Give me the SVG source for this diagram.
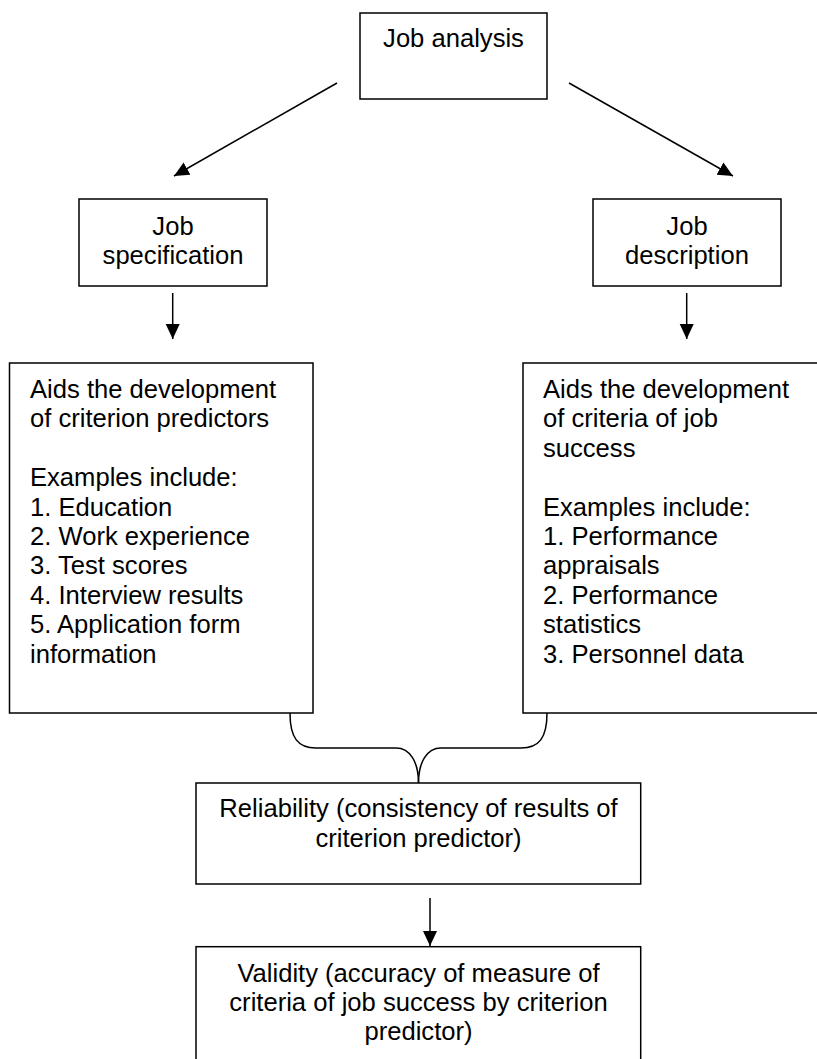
<svg xmlns="http://www.w3.org/2000/svg" width="817" height="1059" viewBox="0 0 817 1059">
  <style>
    .box { fill: #ffffff; stroke: #000000; stroke-width: 1.5; }
    .lbl { font-family: "Liberation Sans", Arial, sans-serif; font-size: 25.6px; fill: #000000; }
    .c { text-anchor: middle; }
    .edge { fill: none; stroke: #000000; stroke-width: 1.5; }
  </style>
  <defs>
    <marker id="arrow" markerUnits="userSpaceOnUse" markerWidth="16" markerHeight="16" viewBox="0 0 16 16" refX="15" refY="8" orient="auto">
      <path d="M0,1 L15,8 L0,15 Z" fill="#000000"/>
    </marker>
  </defs>
  <rect width="817" height="1059" fill="#ffffff"/>

  <g id="connectors">
    <line class="edge" x1="337" y1="83" x2="174" y2="176" marker-end="url(#arrow)"/>
    <line class="edge" x1="569" y1="83" x2="733" y2="176" marker-end="url(#arrow)"/>
    <line class="edge" x1="172.7" y1="293" x2="172.7" y2="339" marker-end="url(#arrow)"/>
    <line class="edge" x1="686.7" y1="293" x2="686.7" y2="339" marker-end="url(#arrow)"/>
    <path class="edge" d="M290,713 C290,738 298,748 316,748 L396,748 C410,748 418.5,762 418.5,783"/>
    <path class="edge" d="M547,713 C547,738 539,748 521,748 L441,748 C427,748 418.5,762 418.5,783"/>
    <line class="edge" x1="430" y1="898" x2="430" y2="946" marker-end="url(#arrow)"/>
  </g>

  <g id="job-analysis">
    <rect class="box" x="360" y="13" width="187" height="86"/>
    <text class="lbl c" x="453.5" y="46.7">Job analysis</text>
  </g>

  <g id="job-specification">
    <rect class="box" x="79" y="199" width="188" height="87"/>
    <text class="lbl c" x="173" y="235">Job</text>
    <text class="lbl c" x="173" y="264">specification</text>
  </g>

  <g id="job-description">
    <rect class="box" x="593" y="199" width="188" height="87"/>
    <text class="lbl c" x="687" y="235">Job</text>
    <text class="lbl c" x="687" y="264">description</text>
  </g>

  <g id="criterion-predictors">
    <rect class="box" x="9.5" y="363" width="303.5" height="350"/>
    <text class="lbl" x="30">
      <tspan x="30" y="398">Aids the development</tspan>
      <tspan x="30" y="427.4">of criterion predictors</tspan>
      <tspan x="30" y="486.2">Examples include:</tspan>
      <tspan x="30" y="515.6">1. Education</tspan>
      <tspan x="30" y="545">2. Work experience</tspan>
      <tspan x="30" y="574.4">3. Test scores</tspan>
      <tspan x="30" y="603.8">4. Interview results</tspan>
      <tspan x="30" y="633.2">5. Application form</tspan>
      <tspan x="30" y="662.6">information</tspan>
    </text>
  </g>

  <g id="criteria-of-success">
    <rect class="box" x="523" y="363" width="320" height="350"/>
    <text class="lbl" x="543">
      <tspan x="543" y="398">Aids the development</tspan>
      <tspan x="543" y="427.4">of criteria of job</tspan>
      <tspan x="543" y="456.8">success</tspan>
      <tspan x="543" y="515.6">Examples include:</tspan>
      <tspan x="543" y="545">1. Performance</tspan>
      <tspan x="543" y="574.4">appraisals</tspan>
      <tspan x="543" y="603.8">2. Performance</tspan>
      <tspan x="543" y="633.2">statistics</tspan>
      <tspan x="543" y="662.6">3. Personnel data</tspan>
    </text>
  </g>

  <g id="reliability">
    <rect class="box" x="196" y="783" width="444.7" height="101"/>
    <text class="lbl c" x="418.5" y="816.7">Reliability (consistency of results of</text>
    <text class="lbl c" x="418.5" y="846.5">criterion predictor)</text>
  </g>

  <g id="validity">
    <rect class="box" x="196" y="946.7" width="444.7" height="130"/>
    <text class="lbl c" x="418.5" y="981.7">Validity (accuracy of measure of</text>
    <text class="lbl c" x="418.5" y="1010.5">criteria of job success by criterion</text>
    <text class="lbl c" x="418.5" y="1039.5">predictor)</text>
  </g>
</svg>
